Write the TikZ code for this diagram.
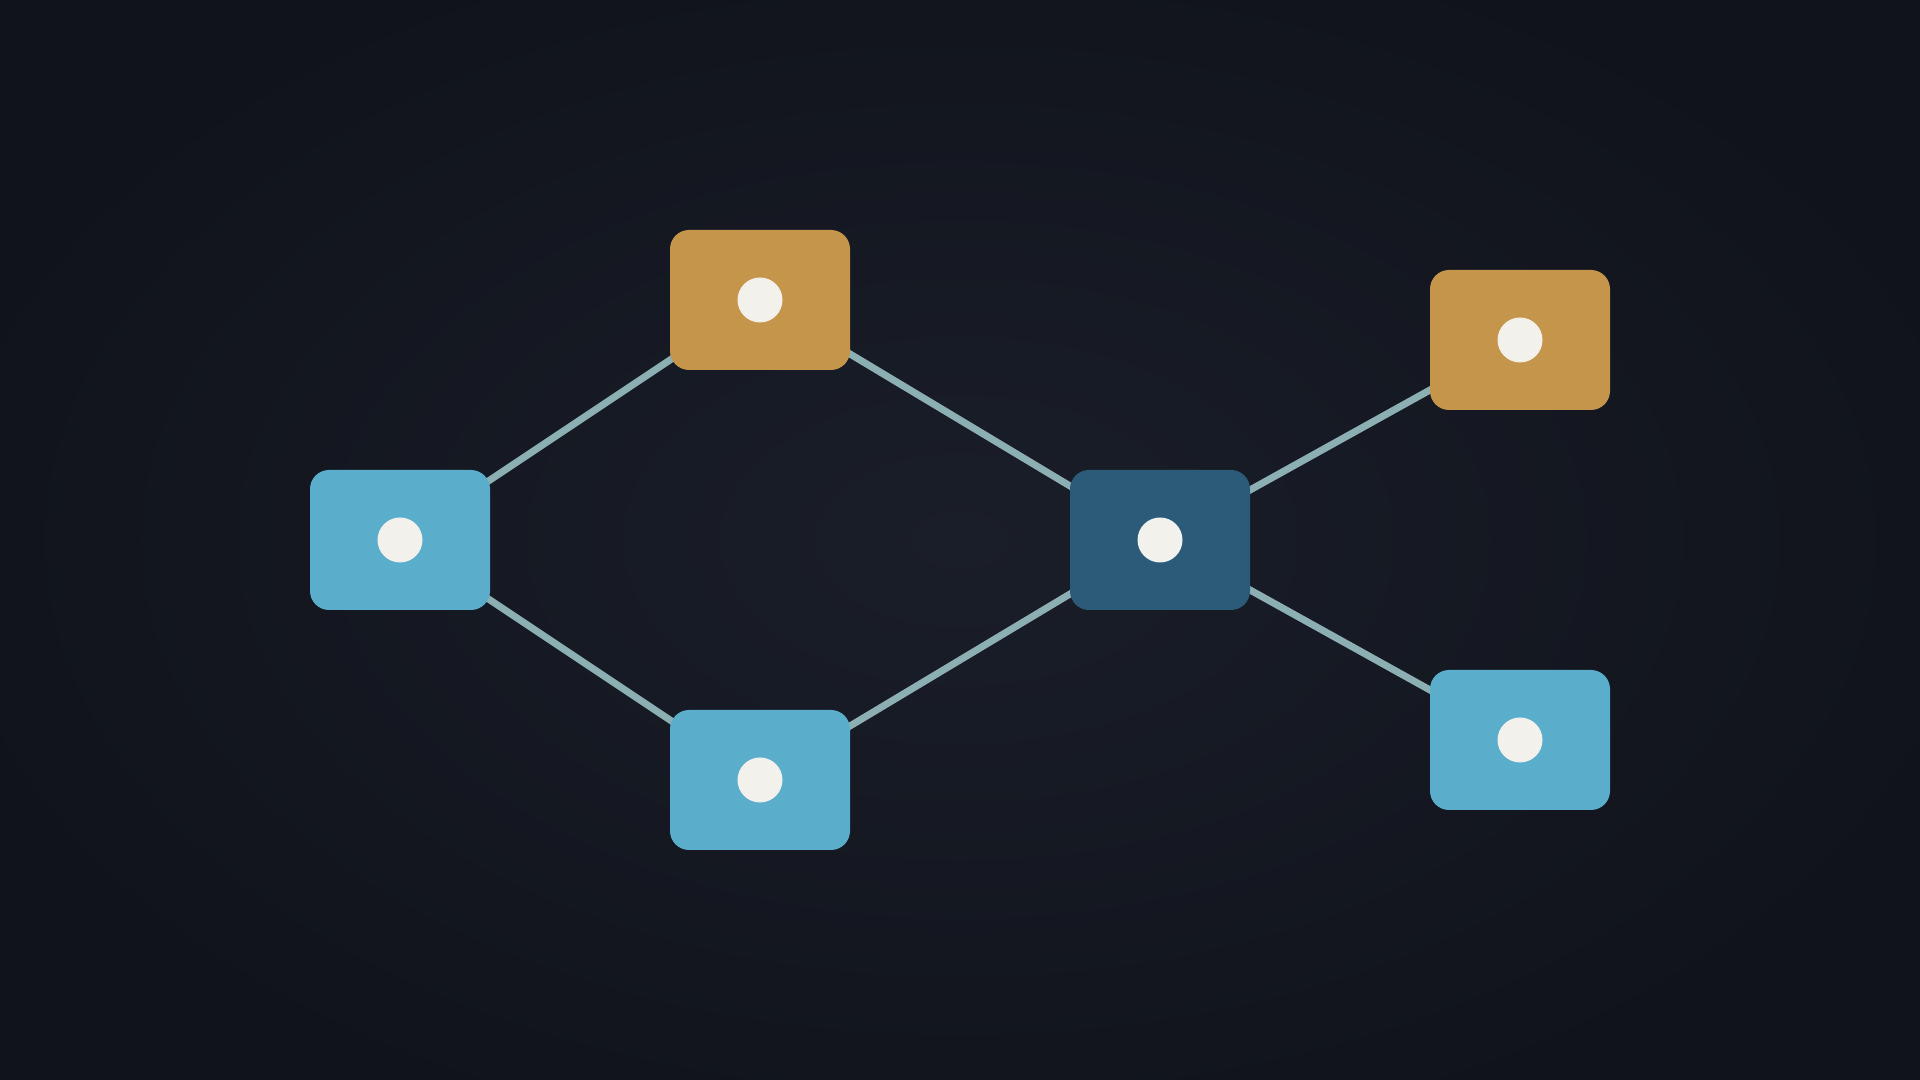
\documentclass[tikz,border=0pt]{standalone}
\definecolor{bgin}{HTML}{1A1E29}
\definecolor{bgout}{HTML}{10131B}
\definecolor{goldc}{HTML}{C4954A}
\definecolor{lblue}{HTML}{5BAECB}
\definecolor{dblue}{HTML}{2C5B79}
\definecolor{linkc}{HTML}{8CAFB4}
\definecolor{dotc}{HTML}{F2F1EC}
\tikzset{
  box/.style={rectangle, rounded corners=0.19cm, minimum width=1.8cm, minimum height=1.4cm, inner sep=0pt, draw=none},
  goldbox/.style={box, fill=goldc},
  bluebox/.style={box, fill=lblue},
  darkbox/.style={box, fill=dblue},
  link/.style={draw=linkc, line width=2pt},
  dot/.style={fill=dotc}
}
\begin{document}
\begin{tikzpicture}
\useasboundingbox (0,0) rectangle (19.2,10.8);
\shade[inner color=bgin, outer color=bgout] (-1,-1) rectangle (20.2,11.8);
\coordinate (pA) at (4.0,5.4);
\coordinate (pB) at (7.6,7.8);
\coordinate (pC) at (7.6,3.0);
\coordinate (pD) at (11.6,5.4);
\coordinate (pE) at (15.2,7.4);
\coordinate (pF) at (15.2,3.4);
\draw[link] (pA) -- (pB);
\draw[link] (pA) -- (pC);
\draw[link] (pB) -- (pD);
\draw[link] (pC) -- (pD);
\draw[link] (pD) -- (pE);
\draw[link] (pD) -- (pF);
\node[bluebox] (A) at (pA) {};
\node[goldbox] (B) at (pB) {};
\node[bluebox] (C) at (pC) {};
\node[darkbox] (D) at (pD) {};
\node[goldbox] (E) at (pE) {};
\node[bluebox] (F) at (pF) {};
\foreach \n in {A,B,C,D,E,F} { \fill[dot] (\n.center) circle (0.225); }
\end{tikzpicture}
\end{document}
